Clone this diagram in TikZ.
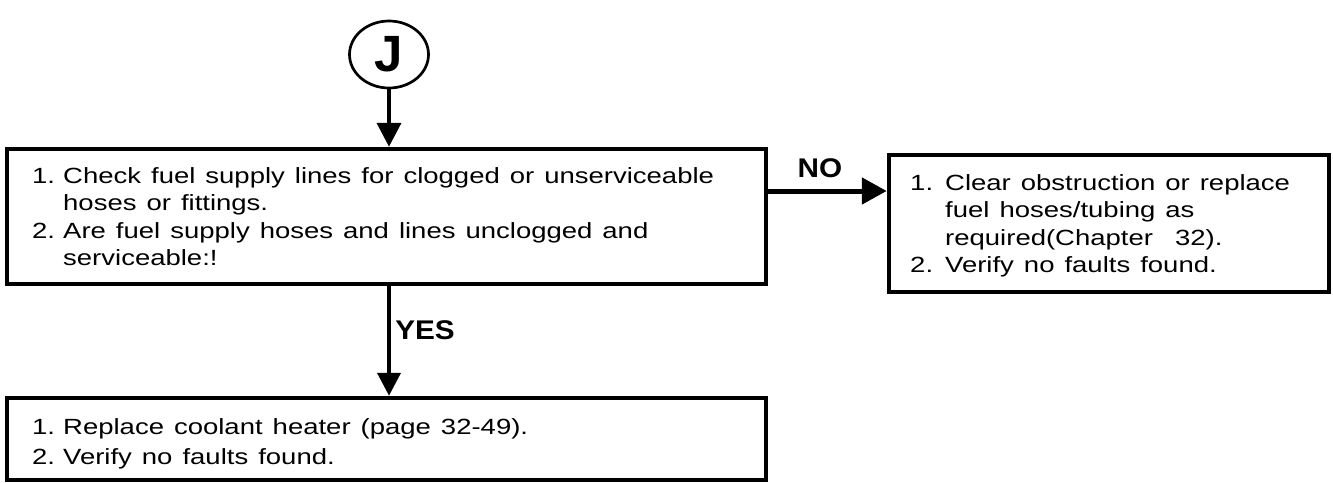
\documentclass[tikz,border=0pt]{standalone}
\usepackage{fontspec}
\setmainfont{Liberation Sans}[FakeStretch=1.25]
\newfontfamily\lblfont{Liberation Sans}[FakeStretch=1.1]
\newfontfamily\circfont{Liberation Sans}
\usetikzlibrary{arrows.meta,shapes.geometric}
\newcommand\itemno[1]{\makebox[31pt][l]{#1}}
\newcommand\itemnob[1]{\makebox[35pt][l]{#1}}
\newcommand\widesp{\spaceskip=10pt\relax}
\tikzset{
  box/.style={draw, line width=4.5pt, rectangle, inner sep=0pt},
  txt/.style={anchor=base west, inner sep=0pt,
    font=\fontsize{22}{27.5}\selectfont},
  flow/.style={line width=4pt, -{Triangle[length=24pt,width=24pt]}},
  lbl/.style={inner sep=0pt, font=\lblfont\bfseries\fontsize{27}{30}\selectfont},
}
\begin{document}
\begin{tikzpicture}[x=1pt,y=-1pt]
\useasboundingbox (0,0) rectangle (1333,482);
% connector circle
\node[draw, ellipse, line width=2.7pt, minimum width=79pt, minimum height=67pt,
      inner sep=0pt, font=\circfont\bfseries\fontsize{51}{51}\selectfont] (j) at (389,54.5) {J};
% boxes
\node[box, minimum width=759pt, minimum height=135pt] (b1) at (386.5,216.5) {};
\node[box, minimum width=440pt, minimum height=137pt] (b2) at (1109,223.5) {};
\node[box, minimum width=759pt, minimum height=82pt] (b3) at (386.5,439) {};
% texts
\node[txt] (t1) at (32,183) {\widesp\begin{tabular}[t]{@{}l@{}l@{}}
\itemno{1.} & Check fuel supply lines for clogged or unserviceable\\
 & hoses or fittings.\\
\itemno{2.} & Are fuel supply hoses and lines unclogged and\\
 & serviceable:!
\end{tabular}};
\node[txt] (t2) at (910,190) {\widesp\begin{tabular}[t]{@{}l@{}l@{}}
\itemnob{1.} & Clear obstruction or replace\\
 & fuel hoses/tubing as\\
 & required(Chapter\hspace{22pt}32).\\
\itemnob{2.} & Verify no faults found.
\end{tabular}};
\node[txt, font=\fontsize{22}{30}\selectfont] (t3) at (32,434) {\widesp\begin{tabular}[t]{@{}l@{}l@{}}
\itemno{1.} & Replace coolant heater (page 32-49).\\
\itemno{2.} & Verify no faults found.
\end{tabular}};
% connectors
\coordinate (noy) at (0,191);
\draw[flow] (j.south) -- (j.south |- b1.north);
\draw[flow, line width=5pt, -{Triangle[length=25pt,width=26pt]}] (b1.east |- noy) -- (b2.west |- noy);
\draw[flow, -{Triangle[length=23pt,width=23pt]}] (b1.south -| j.south) -- (b3.north -| j.south);
% labels
\node[lbl] (no) at (820,168) {NO};
\node[lbl] (yes) at (425,330) {YES};
\end{tikzpicture}
\end{document}
